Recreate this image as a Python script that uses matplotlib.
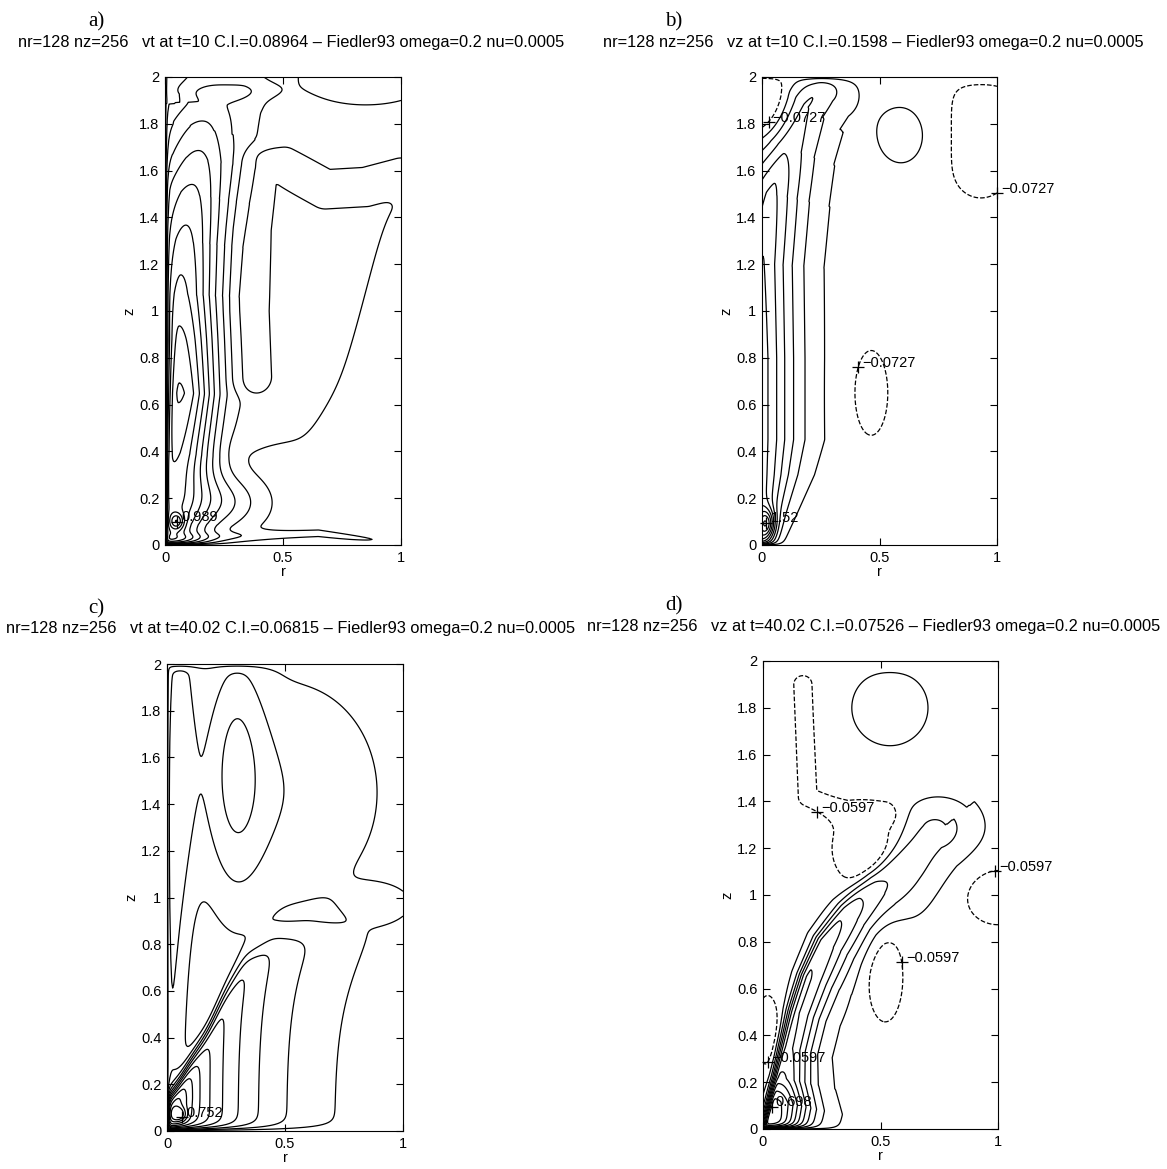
import numpy as np
import matplotlib.pyplot as plt

plt.rcParams['font.family'] = ['Liberation Sans', 'DejaVu Sans']

W, H = 1167, 1169

# ---- grid of the (r, z) meridional plane ----
r = np.linspace(0, 1, 251)
z = np.linspace(0, 2, 501)
R, Z = np.meshgrid(r, z)


def blob(r0, z0, sr, sz, amp):
    return amp * np.exp(-((R - r0) / sr) ** 2 - ((Z - z0) / sz) ** 2)


def step(x, e):
    return 1 / (1 + np.exp(-x / e))


def edge(xp, fp, width=0.04):
    # smooth boundary height z(r) through the points
    prof = np.interp(r, xp, fp)
    n = 60
    k = np.exp(-0.5 * (np.arange(-n, n + 1) * (r[1] - r[0]) / width) ** 2)
    k /= k.sum()
    return np.convolve(np.pad(prof, n, mode='edge'), k, mode='valid')[None, :]


def ridge(pr, pz, amps, wl, wr, p=2.0):
    # jet-like structure along a polyline, amplitude / widths given per vertex
    pts = np.column_stack([pr, pz]).astype(float)
    n = len(pts)
    amps, wl, wr = [np.broadcast_to(np.asarray(v, float), (n,)) for v in (amps, wl, wr)]
    seg = np.diff(pts, axis=0)
    seglen = np.hypot(seg[:, 0], seg[:, 1])
    cum = np.concatenate([[0], np.cumsum(seglen)])
    best = np.full(R.shape, np.inf)
    s_at = np.zeros(R.shape)
    side = np.zeros(R.shape)
    for i in range(len(seg)):
        dr, dz = seg[i]
        t = ((R - pts[i, 0]) * dr + (Z - pts[i, 1]) * dz) / seglen[i] ** 2
        t = np.clip(t, 0, 1)
        d = np.hypot(R - pts[i, 0] - t * dr, Z - pts[i, 1] - t * dz)
        cross = dr * (Z - pts[i, 1]) - dz * (R - pts[i, 0])
        m = d < best
        best[m] = d[m]
        s_at[m] = cum[i] + t[m] * seglen[i]
        side[m] = cross[m]
    a = np.interp(s_at, cum, amps)
    w = np.where(side > 0, np.interp(s_at, cum, wl), np.interp(s_at, cum, wr))
    return a * np.exp(-(best / w) ** p)


# ---------------- a) vt, t=10 (field in C.I. units) ----------------
ci_a = 0.08964
a_col_z = [0.0, 0.1, 0.25, 0.4, 0.65, 0.88, 1.07, 1.3, 1.5, 1.65, 1.78, 1.9, 1.97]
a_col_r = [0.0, 0.0, 0.02, 0.04, 0.06, 0.06, 0.06, 0.08, 0.11, 0.14, 0.16, 0.19, 0.16]
a_col_amp = [7.0, 7.5, 8.0, 8.7, 9.7, 8.8, 7.9, 6.9, 5.8, 4.8, 3.8, 2.7, 1.7]
a_col_wl = [0.2, 0.2, 0.1, 0.08, 0.08, 0.08, 0.1, 0.15, 0.2, 0.2, 0.2, 0.2, 0.2]
a_sea_r = [0.25, 0.36, 0.6, 0.75, 0.87, 0.93, 1.0]
a_sea_z = [0.45, 0.41, 0.45, 0.7, 1.15, 1.4, 1.5]
a_trough_r = [0.37, 0.36, 0.37, 0.40, 0.50, 0.68, 0.85, 1.0]
a_trough_z = [0.72, 1.0, 1.35, 1.62, 1.62, 1.52, 1.53, 1.57]
a_bot_r = [0.0, 0.65, 0.88]
a_bot_z = [0.025, 0.05, 0.02]
a_bot_amp = [1.0, 0.8, 0.6]

zlow = edge(a_sea_r, a_sea_z)
va = (0.5
      + ridge(a_col_r, a_col_z, a_col_amp, a_col_wl, 0.17)
      + step(R - 0.3, 0.03) * step(Z - zlow, 0.03)
      + ridge(a_trough_r, a_trough_z, -1.0, 0.09, 0.09, p=4)
      + blob(0.85, 2.0, 0.35, 0.15, 1.0)
      + ridge(a_bot_r, a_bot_z, a_bot_amp, 0.022, 0.022)
      + blob(0.25, 0.18, 0.17, 0.12, 2.2)
      + blob(0.25, 1.94, 0.17, 0.035, 1.0)
      + blob(0.05, 0.1, 0.03, 0.035, 3.3))
va = va * (1 - np.exp(-R / 0.006)) * (1 - np.exp(-Z / 0.008)) * ci_a
lev_a = 0.0029 + ci_a * np.arange(1, 12)

# ---------------- b) vz, t=10 ----------------
ci_b = 0.1598
b_col_z = [0.0, 0.1, 0.3, 0.45, 0.8, 1.2, 1.5, 1.7, 1.88, 1.95]
b_col_r = [0.0, 0.0, 0.0, 0.0, 0.0, 0.0, 0.04, 0.10, 0.18, 0.25]
b_col_amp = [0.9, 0.95, 0.95, 0.95, 0.95, 0.9, 0.78, 0.62, 0.48, 0.4]
b_col_w = [0.05, 0.075, 0.125, 0.15, 0.15, 0.15, 0.15, 0.14, 0.13, 0.12]

vb = (ridge(b_col_r, b_col_z, b_col_amp, b_col_w, b_col_w, p=1.5)
      + blob(0.02, 0.09, 0.035, 0.06, 0.7)
      + blob(0.0, 1.9, 0.13, 0.2, -0.45)
      + blob(0.46, 0.65, 0.1, 0.25, -0.13)
      + blob(0.93, 1.75, 0.22, 0.33, -0.14)
      + blob(0.61, 1.75, 0.15, 0.17, 0.16))
vb = vb * (1 - np.exp(-Z / 0.008)) * (1 - np.exp(-(2 - Z) / 0.02))
lev_b = -0.0727 + ci_b * np.arange(0, 11)

# ---------------- c) vt, t=40.02 (C.I. units) ----------------
ci_c = 0.06815
c_top_r = [0.0, 0.05, 0.1, 0.17, 0.25, 0.33, 0.45, 0.6, 0.75, 1.0]
c_top_z = [0.12, 0.2, 0.3, 0.42, 0.6, 0.74, 0.83, 0.86, 0.87, 0.87]
c_strip_r = [0.0, 0.02, 0.04, 0.05]
c_strip_z = [0.15, 0.9, 1.5, 1.95]
c_strip_amp = [2.0, 2.0, 2.0, 1.9]

ztop = edge(c_top_r, c_top_z, 0.02)
vc = (11.0 * np.exp(-R / 0.3) * step(ztop - Z, 0.025)
      + ridge(c_strip_r, c_strip_z, c_strip_amp, 0.083, 0.083)
      + blob(0.5, 1.45, 0.5, 0.6, 1.9)
      + blob(0.29, 1.58, 0.126, 0.6, 2.0)
      + blob(0.92, 0.97, 0.15, 0.09, 1.2)
      + blob(0.05, 0.07, 0.03, 0.03, 3.0))
vc = (vc * (1 - np.exp(-R / 0.006)) * (1 - np.exp(-Z / 0.015))
      * (1 - np.exp(-(2 - Z) / 0.012)) * ci_c)
lev_c = 0.0023 + ci_c * np.arange(1, 12)

# ---------------- d) vz, t=40.02 ----------------
ci_d = 0.07526
d_jet_r = [0.02, 0.05, 0.07, 0.10, 0.14, 0.19, 0.26, 0.36, 0.48, 0.60, 0.72]
d_jet_z = [0.0, 0.12, 0.22, 0.35, 0.5, 0.65, 0.8, 0.93, 1.05, 1.15, 1.25]
d_jet_amp = [0.8, 0.72, 0.5, 0.42, 0.4, 0.4, 0.36, 0.3, 0.23, 0.15, 0.08]
d_jet_wl = [0.03, 0.03, 0.03, 0.035, 0.038, 0.04, 0.045, 0.05, 0.06, 0.07, 0.08]
d_jet_wr = [0.15, 0.15, 0.13, 0.11, 0.11, 0.12, 0.13, 0.13, 0.14, 0.15, 0.16]
d_back_r = [0.17, 0.19, 0.35, 0.52]
d_back_z = [1.9, 1.42, 1.35, 1.35]

vd = (ridge(d_jet_r, d_jet_z, d_jet_amp, d_jet_wl, d_jet_wr)
      + blob(0.75, 1.3, 0.13, 0.1, 0.06)
      + blob(0.54, 1.8, 0.2, 0.2, 0.03)
      + ridge(d_back_r, d_back_z, -0.1, 0.055, 0.055)
      + blob(0.42, 1.2, 0.12, 0.15, -0.18)
      + blob(0.52, 0.65, 0.09, 0.23, -0.12)
      + blob(1.0, 0.99, 0.16, 0.14, -0.12)
      + blob(0.02, 0.42, 0.06, 0.18, -0.12))
vd = vd * (1 - np.exp(-Z / 0.01)) * (1 - np.exp(-(2 - Z) / 0.02))
lev_d = -0.0597 + ci_d * np.arange(0, 11)

panels = [
    dict(tag='a)', field=va, levels=lev_a, rect=(165, 77, 236, 468), tdx=8,
         title='nr=128 nz=256   vt at t=10 C.I.=0.08964 \u2013 Fiedler93 omega=0.2 nu=0.0005',
         labels=[(10, '0.989', [(0.05, 0.1)])]),
    dict(tag='b)', field=vb, levels=lev_b, rect=(762, 77, 235, 468), tdx=-6,
         title='nr=128 nz=256   vz at t=10 C.I.=0.1598 \u2013 Fiedler93 omega=0.2 nu=0.0005',
         labels=[(0, '\u22120.0727', [(0.05, 1.73), (0.4, 0.77), (1.0, 1.7)]),
                 (10, '1.52', [(0.02, 0.1)])]),
    dict(tag='c)', field=vc, levels=lev_c, rect=(167, 664, 236, 467), tdx=6,
         title='nr=128 nz=256   vt at t=40.02 C.I.=0.06815 \u2013 Fiedler93 omega=0.2 nu=0.0005',
         labels=[(10, '0.752', [(0.06, 0.07)])]),
    dict(tag='d)', field=vd, levels=lev_d, rect=(763, 661, 235, 468), tdx=-7,
         title='nr=128 nz=256   vz at t=40.02 C.I.=0.07526 \u2013 Fiedler93 omega=0.2 nu=0.0005',
         labels=[(0, '\u22120.0597', [(0.22, 1.29), (0.99, 1.09), (0.6, 0.72), (0.03, 0.26)]),
                 (10, '0.698', [(0.05, 0.08)])]),
]

fig = plt.figure(figsize=(W / 100, H / 100), dpi=100)
fs = 10.5

for p in panels:
    x0, y0, w, h = p['rect']
    ax = fig.add_axes([x0 / W, 1 - (y0 + h) / H, w / W, h / H])
    styles = ['--' if lv < 0 else '-' for lv in p['levels']]
    cs = ax.contour(r, z, p['field'], levels=p['levels'], colors='k',
                    linewidths=0.9, linestyles=styles)
    # MATLAB style labels: '+' on the line and the value beside it
    for idx, txt, anchors in p['labels']:
        segs = [s for s in cs.allsegs[idx] if len(s)]
        if not segs:
            continue
        pts = np.vstack(segs)
        for ra, za in anchors:
            k = np.argmin((pts[:, 0] - ra) ** 2 + ((pts[:, 1] - za) / 2) ** 2)
            px, pz = pts[k]
            ax.plot(px, pz, '+', color='k', ms=8, mew=0.9, clip_on=False)
            ax.annotate(txt, (px, pz), xytext=(3, 3), textcoords='offset points',
                        fontsize=fs, ha='left', va='center', annotation_clip=False)
    ax.set_xlim(0, 1)
    ax.set_ylim(0, 2)
    ax.set_xticks([0, 0.5, 1])
    ax.set_xticklabels(['0', '0.5', '1'])
    yt = np.round(np.arange(0, 2.01, 0.2), 1)
    ax.set_yticks(yt)
    ax.set_yticklabels([f'{v:g}' for v in yt])
    ax.tick_params(direction='in', top=True, right=True, length=5, width=0.8,
                   labelsize=fs, pad=4)
    for sp in ax.spines.values():
        sp.set_linewidth(0.8)
    ax.text(-36 / w, 0.5, 'z', rotation=90, transform=ax.transAxes,
            ha='center', va='center', fontsize=fs)
    ax.text(0.5, -27 / h, 'r', transform=ax.transAxes,
            ha='center', va='center', fontsize=fs)
    ax.text(0.5 + p['tdx'] / w, 1 + 35 / h, p['title'], transform=ax.transAxes,
            ha='center', va='center', fontsize=11.8)
    ax.text((96 if p['tag'] in ('a)', 'c)') else 674) / W,
            1 - (y0 - 55) / H, p['tag'], transform=fig.transFigure,
            ha='center', va='center', fontsize=15, family='Liberation Serif')

fig.savefig('out.png', dpi=100)
